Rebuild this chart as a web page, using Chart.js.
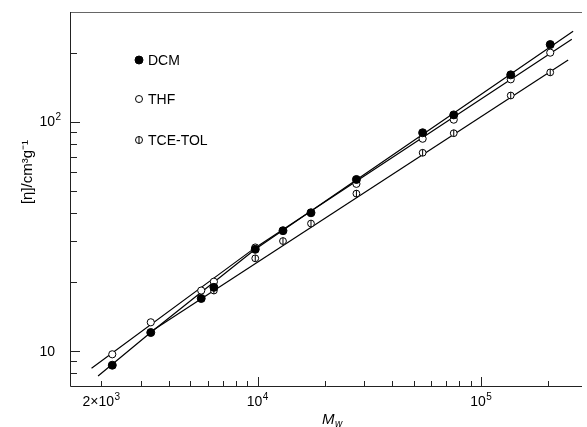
<!DOCTYPE html>
<html>
<head>
<meta charset="utf-8">
<script src="https://cdn.jsdelivr.net/npm/chart.js@4.4.1/dist/chart.umd.min.js"></script>
<style>
  html, body { margin: 0; padding: 0; background: #fff; }
</style>
</head>
<body>
<canvas id="myChart" width="587" height="427"></canvas>
<script>
// measured points, Mw and [eta] in cm3/g
const mwDCM  = [2240, 3330, 5600, 6380, 9770, 13000, 17350, 27700, 54800, 75500, 135800, 204000];
const etaDCM = [8.64, 12.0, 16.9, 18.9, 27.7, 33.4, 40.0, 55.9, 89.4, 107, 160, 217];

const mwTHF  = [2240, 3330, 5600, 6380, 9770, 27700, 54800, 75500, 135800, 204000];
const etaTHF = [9.64, 13.3, 18.3, 20.0, 28.2, 53.5, 84.2, 102, 153, 200];

const mwTCE  = [6380, 9770, 13000, 17350, 27700, 54800, 75500, 135800, 204000];
const etaTCE = [18.3, 25.3, 30.1, 35.9, 48.5, 73.1, 89.0, 130, 164];

// fitted lines (nodes)
const fitMwDCM  = [1935, 3337, 9768, 258300];
const fitEtaDCM = [7.75, 12.04, 27.7, 248];
const fitMwTHF  = [1809, 9738, 254800];
const fitEtaTHF = [8.38, 28.1, 229];
const fitMwTCE  = [3313, 245400];
const fitEtaTCE = [12.07, 186];

const seriesNames = ['DCM', 'THF', 'TCE-TOL'];

// axis ticks: labelled ones as [mantissa text, exponent text]
const xMajor = [2000, 10000, 100000];
const xMajorLabels = [['2\u00d710', '3'], ['10', '4'], ['10', '5']];
const xMinor = [3000, 4000, 5000, 6000, 7000, 8000, 9000,
                20000, 30000, 40000, 50000, 60000, 70000, 80000, 90000, 200000];
const yMajor = [10, 100];
const yMajorLabels = [['10', ''], ['10', '2']];
const yMinor = [8, 9, 20, 30, 40, 50, 60, 70, 80, 90, 200];

const pts = (xs, ys) => xs.map((v, i) => ({x: v, y: ys[i]}));
const FONT = '"Liberation Sans", Arial, Helvetica, sans-serif';

// base text with a raised exponent
function supText(ctx, base, exp, x, y, align) {
  ctx.font = '14px ' + FONT;
  const wb = ctx.measureText(base).width;
  ctx.font = '10px ' + FONT;
  const we = exp ? ctx.measureText(exp).width + 0.5 : 0;
  let left = x;
  if (align === 'center') left = x - (wb + we) / 2;
  if (align === 'right') left = x - wb;
  ctx.textAlign = 'left';
  ctx.textBaseline = 'middle';
  ctx.font = '14px ' + FONT;
  ctx.fillText(base, left, y);
  if (exp) {
    ctx.font = '10px ' + FONT;
    ctx.fillText(exp, left + wb + 0.5, y - 5);
  }
}

const frame = {
  id: 'frame',
  afterDraw(chart) {
    const {ctx, chartArea: a, scales: {x, y}} = chart;
    ctx.save();
    ctx.lineWidth = 1;
    ctx.strokeStyle = '#666';
    ctx.beginPath();
    ctx.moveTo(a.left, a.top + 0.5); ctx.lineTo(a.right, a.top + 0.5);
    ctx.stroke();
    ctx.strokeStyle = '#222';
    ctx.beginPath();
    ctx.moveTo(a.left + 0.5, a.top); ctx.lineTo(a.left + 0.5, a.bottom + 0.5);
    ctx.lineTo(a.right, a.bottom + 0.5);
    ctx.stroke();
    // inward ticks
    ctx.beginPath();
    xMajor.concat(xMinor).forEach(v => {
      const px = Math.round(x.getPixelForValue(v)) + 0.5;
      const len = xMajor.includes(v) && v !== 2000 ? 9 : 5;
      ctx.moveTo(px, a.bottom); ctx.lineTo(px, a.bottom - len);
    });
    yMajor.concat(yMinor).forEach(v => {
      const py = Math.round(y.getPixelForValue(v)) + 0.5;
      const len = yMajor.includes(v) ? 10 : 7;
      ctx.moveTo(a.left, py); ctx.lineTo(a.left + len, py);
    });
    ctx.stroke();

    // tick labels
    ctx.fillStyle = '#000';
    xMajor.forEach((v, i) => {
      supText(ctx, xMajorLabels[i][0], xMajorLabels[i][1], x.getPixelForValue(v), a.bottom + 16, 'center');
    });
    yMajor.forEach((v, i) => {
      supText(ctx, yMajorLabels[i][0], yMajorLabels[i][1], 55, y.getPixelForValue(v) + 1, 'right');
    });

    // axis titles
    ctx.textBaseline = 'alphabetic';
    ctx.font = 'italic 15px ' + FONT;
    ctx.textAlign = 'left';
    ctx.fillText('M', 322, 424);
    ctx.font = 'italic 10px ' + FONT;
    ctx.fillText('w', 335, 427);

    ctx.save();
    ctx.translate(32, 172);
    ctx.rotate(-Math.PI / 2);
    ctx.font = '15px ' + FONT;
    ctx.textAlign = 'center';
    ctx.fillText('[\u03b7]/cm\u00b3g\u207b\u00b9', 0, 0);
    ctx.restore();

    // legend
    const rows = [60, 99, 140];
    ctx.font = '14px ' + FONT;
    ctx.textAlign = 'left';
    ctx.textBaseline = 'middle';
    ctx.strokeStyle = '#000';
    rows.forEach((ry, i) => {
      ctx.beginPath();
      ctx.arc(139, ry, i === 0 ? 4 : 3.5, 0, Math.PI * 2);
      ctx.fillStyle = i === 0 ? '#000' : '#fff';
      ctx.fill();
      ctx.stroke();
      if (i === 2) {
        ctx.beginPath();
        ctx.moveTo(139, ry - 3.5); ctx.lineTo(139, ry + 3.5);
        ctx.stroke();
      }
      ctx.fillStyle = '#000';
      ctx.fillText(seriesNames[i], 148, ry + 1);
    });
    ctx.restore();
  }
};

const lineSet = (xs, ys) => ({
  data: pts(xs, ys),
  showLine: true,
  borderColor: '#000',
  borderWidth: 1.2,
  pointRadius: 0,
  fill: false
});

new Chart(document.getElementById('myChart'), {
  type: 'scatter',
  data: {
    datasets: [
      {label: 'DCM', data: pts(mwDCM, etaDCM), pointRadius: 4,
       backgroundColor: '#000', borderColor: '#000', borderWidth: 1},
      {label: 'THF', data: pts(mwTHF, etaTHF), pointRadius: 3.6,
       backgroundColor: '#fff', borderColor: '#000', borderWidth: 1},
      // TCE-TOL marker: a vertical bar over an open circle
      {label: 'TCE-TOL bar', data: pts(mwTCE, etaTCE), pointStyle: 'line', rotation: 90,
       pointRadius: 3.4, borderColor: '#000', borderWidth: 1},
      {label: 'TCE-TOL', data: pts(mwTCE, etaTCE), pointRadius: 3.4,
       backgroundColor: '#fff', borderColor: '#000', borderWidth: 1},
      lineSet(fitMwDCM, fitEtaDCM),
      lineSet(fitMwTHF, fitEtaTHF),
      lineSet(fitMwTCE, fitEtaTCE)
    ]
  },
  options: {
    responsive: false,
    animation: false,
    layout: {padding: {top: 12, right: 0, bottom: 0, left: 0}},
    plugins: {legend: {display: false}, tooltip: {enabled: false}},
    scales: {
      x: {
        type: 'logarithmic',
        min: 1449,
        max: 283000,
        afterFit: s => { s.height = 41; },
        grid: {display: false, drawTicks: false},
        border: {display: false},
        ticks: {display: false}
      },
      y: {
        type: 'logarithmic',
        min: 7.01,
        max: 301,
        afterFit: s => { s.width = 70; },
        grid: {display: false, drawTicks: false},
        border: {display: false},
        ticks: {display: false}
      }
    }
  },
  plugins: [frame]
});
</script>
</body>
</html>
